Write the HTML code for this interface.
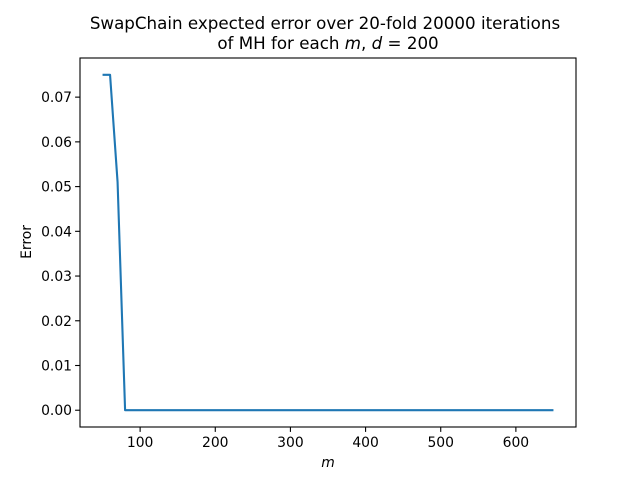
<!DOCTYPE html>
<html><head><meta charset="utf-8"><style>
body{margin:0;background:#fff}
svg text{font-family:"DejaVu Sans","Liberation Sans",sans-serif;fill:#000}
</style></head><body>
<svg id="c" width="640" height="480" viewBox="0 0 640 480">
<rect width="640" height="480" fill="#fff"/>
<text x="325" y="29" font-size="16.7" text-anchor="middle">SwapChain expected error over 20-fold 20000 iterations</text>
<text x="328" y="49" font-size="16.7" text-anchor="middle">of MH for each <tspan font-style="italic">m</tspan>, <tspan font-style="italic">d</tspan> = 200</text>
<g id="plot"></g>
<text x="328" y="467" font-size="13.9" font-style="italic" text-anchor="middle">m</text>
<text transform="translate(31,242) rotate(-90)" font-size="13.9" text-anchor="middle">Error</text>
</svg>
<script>
const mVals=[50,60,70,80,90,100,110,120,130,140,150,160,170,180,190,200,210,220,230,240,250,260,270,280,290,300,310,320,330,340,350,360,370,380,390,400,410,420,430,440,450,460,470,480,490,500,510,520,530,540,550,560,570,580,590,600,610,620,630,640,650];
const errVals=[0.075,0.075,0.051,0,0,0,0,0,0,0,0,0,0,0,0,0,0,0,0,0,0,0,0,0,0,0,0,0,0,0,0,0,0,0,0,0,0,0,0,0,0,0,0,0,0,0,0,0,0,0,0,0,0,0,0,0,0,0,0,0,0];
const xTicks=[100,200,300,400,500,600];
const yTicks=[0,0.01,0.02,0.03,0.04,0.05,0.06,0.07];
const yTickLabels=["0.00","0.01","0.02","0.03","0.04","0.05","0.06","0.07"];
const L=80,R=576,T=58,B=427;
const xmin=20,xmax=680,ymin=-0.00375,ymax=0.07875;
const X=v=>L+(v-xmin)/(xmax-xmin)*(R-L);
const Y=v=>B-(v-ymin)/(ymax-ymin)*(B-T);
const ns="http://www.w3.org/2000/svg",g=document.getElementById('plot');
function mk(t,a){const e=document.createElementNS(ns,t);for(const k in a)e.setAttribute(k,a[k]);g.appendChild(e);return e;}
const line=mk('polyline',{points:mVals.map((m,i)=>X(m)+','+Y(errVals[i])).join(' '),fill:'none',stroke:'#1f77b4','stroke-width':2.1,'stroke-linejoin':'round'});


xTicks.forEach(v=>{const x=X(v);
 const t=mk('line',{x1:x,x2:x,y1:B,y2:B+4.9,stroke:'#000','stroke-width':1.1});
 
 
 const l=mk('text',{x:x,y:B+20,'font-size':13.9,'text-anchor':'middle'});l.textContent=v;
 
 });
yTicks.forEach((v,i)=>{const y=Y(v);
 const t=mk('line',{x1:L-4.9,x2:L,y1:y,y2:y,stroke:'#000','stroke-width':1.1});
 
 
 const l=mk('text',{x:L-8,y:y+5,'font-size':13.9,'text-anchor':'end'});l.textContent=yTickLabels[i];
 
 });
const f=mk('rect',{x:L,y:T,width:R-L,height:B-T,fill:'none',stroke:'#000','stroke-width':1.1});


</script>
</body></html>
